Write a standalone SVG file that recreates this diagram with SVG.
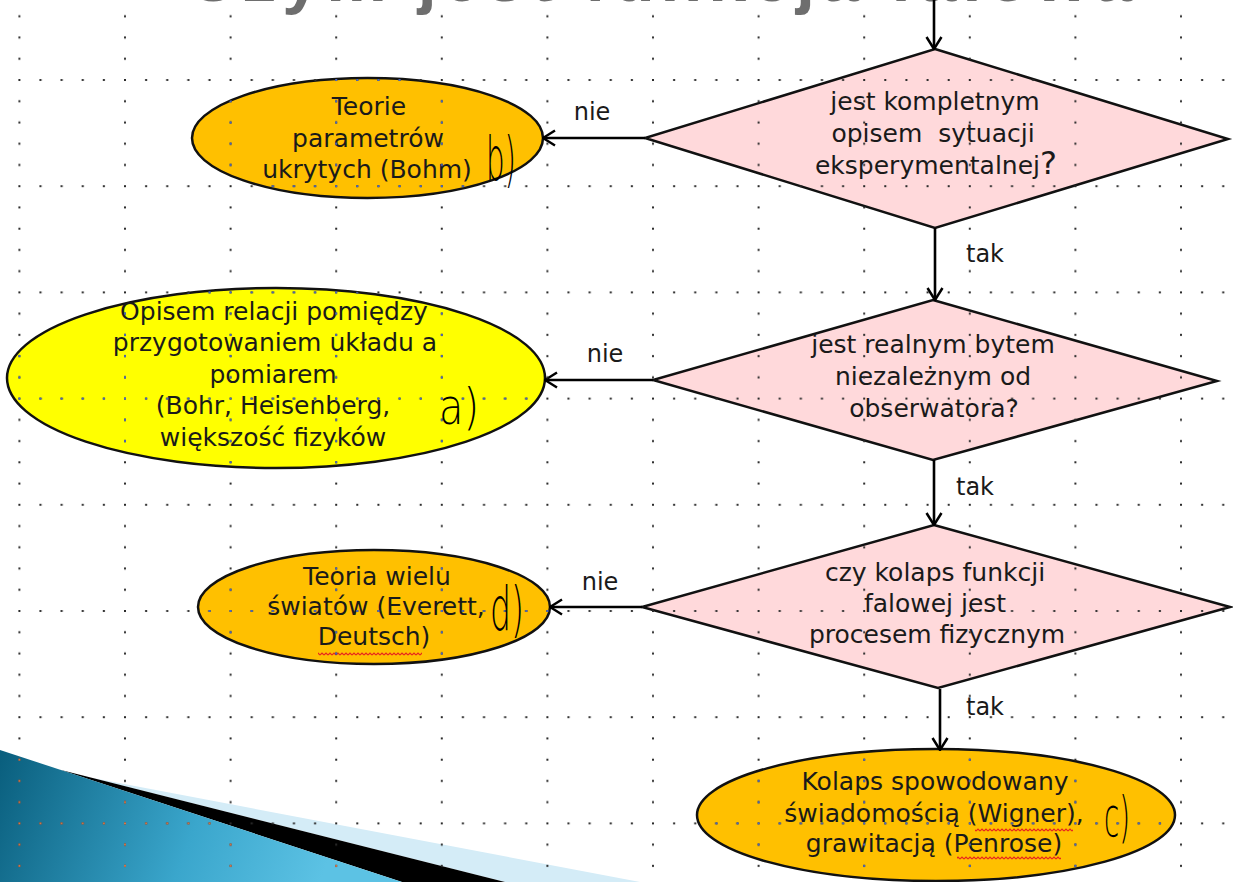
<svg xmlns="http://www.w3.org/2000/svg" width="1233" height="882" viewBox="0 0 1233 882">
<style>
.dia{fill:#ffd9db;stroke:#111;stroke-width:2.5;stroke-linejoin:miter}
.ell{fill:#ffc000;stroke:#111;stroke-width:2.5}
.ellY{fill:#ffff00;stroke:#111;stroke-width:2.5}
.t{font-family:"DejaVu Sans",Verdana,sans-serif;font-size:25px;fill:#1a1a1a;text-anchor:middle}
.lbl{font-family:"DejaVu Sans",Verdana,sans-serif;font-size:24px;fill:#1a1a1a;text-anchor:middle}
.hand{font-family:"DejaVu Sans",sans-serif;font-weight:200;fill:#000}
.conn{fill:none;stroke:#000;stroke-width:2.6;marker-end:url(#arr)}
.title{font-family:"Liberation Sans",Arial,sans-serif;font-size:68px;font-weight:bold;fill:#6e6e6e}
</style>
<defs>
<marker id="arr" viewBox="0 0 14 18" refX="13" refY="9" markerWidth="14" markerHeight="18" markerUnits="userSpaceOnUse" orient="auto">
<path d="M1,1.5 L13,9 L1,16.5" fill="none" stroke="#000" stroke-width="2.5"/>
</marker>
<pattern id="gridK" patternUnits="userSpaceOnUse" x="18.4" y="79" width="105.6" height="106.2">
<g fill="#2a2a2a">
<rect x="0" y="0" width="2" height="2"/><rect x="0" y="21.24" width="2" height="2"/><rect x="0" y="42.48" width="2" height="2"/><rect x="0" y="63.72" width="2" height="2"/><rect x="0" y="84.96" width="2" height="2"/>
<rect x="21.12" y="0" width="2" height="2"/><rect x="42.24" y="0" width="2" height="2"/><rect x="63.36" y="0" width="2" height="2"/><rect x="84.48" y="0" width="2" height="2"/>
</g>
</pattern>
<pattern id="gridB" patternUnits="userSpaceOnUse" x="18.4" y="79" width="105.6" height="106.2">
<g fill="#4a68c8">
<rect x="0" y="0" width="2" height="2"/><rect x="0" y="21.24" width="2" height="2"/><rect x="0" y="42.48" width="2" height="2"/><rect x="0" y="63.72" width="2" height="2"/><rect x="0" y="84.96" width="2" height="2"/>
<rect x="21.12" y="0" width="2" height="2"/><rect x="42.24" y="0" width="2" height="2"/><rect x="63.36" y="0" width="2" height="2"/><rect x="84.48" y="0" width="2" height="2"/>
</g>
</pattern>
<pattern id="gridO" patternUnits="userSpaceOnUse" x="18.4" y="79" width="105.6" height="106.2">
<g fill="#d9784a">
<rect x="0" y="0" width="2" height="2"/><rect x="0" y="21.24" width="2" height="2"/><rect x="0" y="42.48" width="2" height="2"/><rect x="0" y="63.72" width="2" height="2"/><rect x="0" y="84.96" width="2" height="2"/>
<rect x="21.12" y="0" width="2" height="2"/><rect x="42.24" y="0" width="2" height="2"/><rect x="63.36" y="0" width="2" height="2"/><rect x="84.48" y="0" width="2" height="2"/>
</g>
</pattern>
<pattern id="squig" patternUnits="userSpaceOnUse" x="0" y="0" width="4" height="4">
<path d="M0,3 L2,1 L4,3" fill="none" stroke="#e8231e" stroke-width="1.1"/>
</pattern>
<linearGradient id="blueG" gradientUnits="userSpaceOnUse" x1="0" y1="760" x2="320" y2="882">
<stop offset="0" stop-color="#0a5f7e"/>
<stop offset="0.6" stop-color="#3aa6cc"/>
<stop offset="1" stop-color="#5cc2e4"/>
</linearGradient>
<clipPath id="clipEll">
<ellipse cx="367.5" cy="138" rx="175.5" ry="60"/>
<ellipse cx="276" cy="378" rx="269" ry="90"/>
<ellipse cx="374" cy="607" rx="176" ry="57"/>
<ellipse cx="936" cy="815" rx="239" ry="66"/>
</clipPath>
<clipPath id="clipBev">
<polygon points="0,750 402,882 0,882"/>
</clipPath>
</defs>

<rect x="0" y="0" width="1233" height="882" fill="#ffffff"/>

<text class="title" x="187" y="1" textLength="945" lengthAdjust="spacing">Czym jest funkcja falowa</text>

<g id="bevel">
<polygon points="90,777.5 640,882 505,882" fill="#d4ecf7"/>
<polygon points="60,769.7 505,882 402,882" fill="#000"/>
<polygon points="0,750 402,882 0,882" fill="url(#blueG)"/>
</g>

<g id="d1">
<polygon class="dia" points="935,49 1228,139 935,228 645,138"/>
<text class="t" x="935" y="110">jest kompletnym</text>
<text class="t" x="933" y="142" style="white-space:pre">opisem  sytuacji</text>
<text class="t" x="936" y="174">eksperymentalnej<tspan font-size="32">?</tspan></text>
</g>

<g id="d2">
<polygon class="dia" points="933,300 1217,381 933,460 653,380"/>
<text class="t" x="933" y="353">jest realnym bytem</text>
<text class="t" x="933" y="385">niezależnym od</text>
<text class="t" x="934" y="417">obserwatora?</text>
</g>

<g id="d3">
<polygon class="dia" points="934,525 1230,607 938,688 642,607"/>
<text class="t" x="935" y="581">czy kolaps funkcji</text>
<text class="t" x="935" y="612">falowej jest</text>
<text class="t" x="937" y="643">procesem fizycznym</text>
</g>

<g id="e1">
<ellipse class="ell" cx="367.5" cy="138" rx="175.5" ry="60"/>
<text class="t" x="369" y="115">Teorie</text>
<text class="t" x="368" y="147">parametrów</text>
<text class="t" x="367" y="178">ukrytych (Bohm)</text>
</g>

<g id="e2">
<ellipse class="ellY" cx="276" cy="378" rx="269" ry="90"/>
<text class="t" x="274" y="320">Opisem relacji pomiędzy</text>
<text class="t" x="275" y="351">przygotowaniem układu a</text>
<text class="t" x="273" y="383">pomiarem</text>
<text class="t" x="273" y="414">(Bohr, Heisenberg,</text>
<text class="t" x="273" y="446">większość fizyków</text>
</g>

<g id="e3">
<ellipse class="ell" cx="374" cy="607" rx="176" ry="57"/>
<text class="t" x="377" y="585">Teoria wielu</text>
<text class="t" x="376" y="615">światów (Everett,</text>
<text class="t" x="374" y="645">Deutsch)</text>
<rect x="318" y="652" width="104" height="4" fill="url(#squig)"/>
</g>

<g id="e4">
<ellipse class="ell" cx="936" cy="815" rx="239" ry="66"/>
<text class="t" x="935" y="790">Kolaps spowodowany</text>
<text class="t" x="934" y="822">świadomością (Wigner),</text>
<text class="t" x="934" y="852">grawitacją (Penrose)</text>
<rect x="975" y="828" width="98" height="4" fill="url(#squig)"/>
<rect x="957" y="856" width="104" height="4" fill="url(#squig)"/>
</g>

<g id="connectors">
<path class="conn" d="M934,0 V49"/>
<path class="conn" d="M645,138 H543"/>
<path class="conn" d="M935,228 V300"/>
<path class="conn" d="M653,380 H545"/>
<path class="conn" d="M934,460 V525"/>
<path class="conn" d="M642,607 H550"/>
<path class="conn" d="M940,689 V750"/>
<text class="lbl" x="592" y="120">nie</text>
<text class="lbl" x="985" y="262">tak</text>
<text class="lbl" x="605" y="362">nie</text>
<text class="lbl" x="975" y="495">tak</text>
<text class="lbl" x="600" y="590">nie</text>
<text class="lbl" x="985" y="715">tak</text>
</g>

<g id="grid" pointer-events="none">
<rect x="0" y="0" width="1233" height="882" fill="url(#gridK)"/>
<rect x="0" y="0" width="1233" height="882" fill="url(#gridB)" clip-path="url(#clipEll)"/>
<rect x="0" y="0" width="1233" height="882" fill="url(#gridO)" clip-path="url(#clipBev)"/>
</g>

<g id="annotations">
<text class="hand" x="486" y="180" font-size="60" textLength="30" lengthAdjust="spacingAndGlyphs">b)</text>
<text class="hand" x="439" y="424" font-size="50" textLength="40" lengthAdjust="spacingAndGlyphs">a)</text>
<text class="hand" x="490" y="630" font-size="60" textLength="34" lengthAdjust="spacingAndGlyphs">d)</text>
<text class="hand" x="1104" y="836" font-size="56" textLength="26" lengthAdjust="spacingAndGlyphs">c)</text>
</g>
</svg>
